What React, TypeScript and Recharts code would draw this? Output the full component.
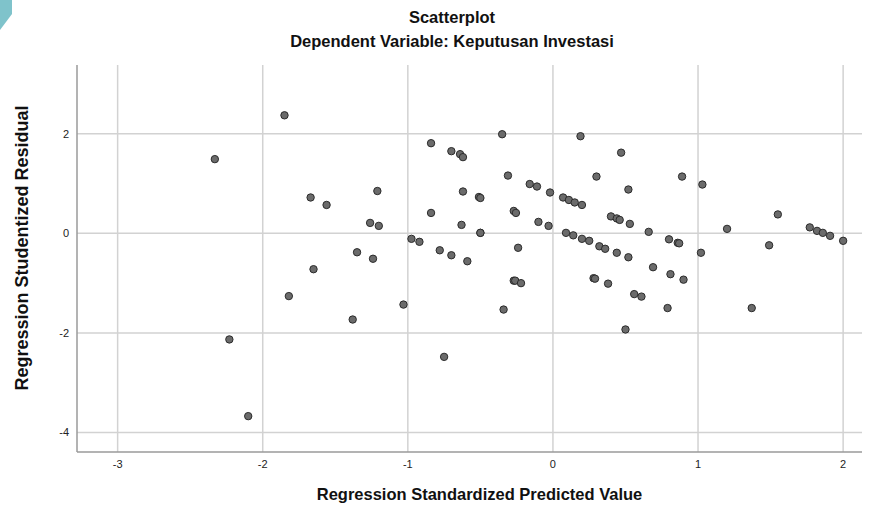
import { ScatterChart, Scatter, XAxis, YAxis, CartesianGrid } from 'recharts';

// Regression standardized predicted values (x) and studentized residuals (y)
const predicted = [
  -2.33, -1.85, -1.67, -1.56, -1.21, -1.26, -1.2, -1.35, -1.24, -0.975,
  -0.92, -0.84, -0.84, -0.7, -0.64, -0.62, -0.62, -0.63, -0.78, -0.7,
  -0.59, -0.51, -0.5, -0.5, -0.5, -0.35, -0.31, -0.27, -0.255, -0.24,
  -0.16, -0.11, -0.1, -0.02, -0.03, 0.19, 0.3, 0.07, 0.11, 0.15,
  0.2, 0.09, 0.14, 0.2, 0.25, 0.32, 0.47, 0.52, 0.4, 0.44,
  0.46, 0.53, 0.66, 0.36, 0.44, 0.52, 0.8, 0.86, 0.87, 0.89,
  1.03, 1.02, 1.2, 1.49, 1.55, 1.77, 1.82, 1.86, 1.91, 2.0,
  -1.65, -1.82, -2.23, -2.1, -0.27, -0.26, -0.22, -0.34, -1.03, -1.38,
  -0.75, 0.28, 0.29, 0.69, 0.81, 0.9, 0.38, 0.56, 0.61, 0.79,
  1.37, 0.5,
];

const residual = [
  1.49, 2.37, 0.72, 0.57, 0.85, 0.21, 0.15, -0.38, -0.51, -0.11,
  -0.17, 1.81, 0.41, 1.65, 1.59, 1.53, 0.84, 0.17, -0.34, -0.44,
  -0.56, 0.73, 0.71, 0.01, 0.01, 1.99, 1.16, 0.45, 0.41, -0.29,
  0.99, 0.94, 0.23, 0.82, 0.15, 1.95, 1.14, 0.72, 0.67, 0.62,
  0.57, 0.01, -0.04, -0.11, -0.15, -0.26, 1.62, 0.88, 0.34, 0.3,
  0.27, 0.19, 0.03, -0.31, -0.39, -0.48, -0.12, -0.19, -0.2, 1.14,
  0.98, -0.39, 0.09, -0.24, 0.38, 0.12, 0.05, 0.01, -0.05, -0.15,
  -0.72, -1.26, -2.13, -3.67, -0.95, -0.95, -1.0, -1.53, -1.43, -1.73,
  -2.48, -0.9, -0.91, -0.68, -0.82, -0.93, -1.01, -1.22, -1.27, -1.5,
  -1.5, -1.93,
];

const xTicks = [-3, -2, -1, 0, 1, 2];
const yTicks = [-4, -2, 0, 2];

const data = predicted.map((x, i) => ({ x, y: residual[i] }));

const FONT = '"Liberation Sans", Arial, sans-serif';

const Dot = (props: any) => (
  <circle cx={props.cx} cy={props.cy} r={3.7} fill="#6b6b6b" stroke="#2b2b2b" strokeWidth={1} />
);

const titleStyle: any = {
  position: 'absolute',
  left: 0,
  width: 904,
  textAlign: 'center',
  fontSize: 16.5,
  fontWeight: 'bold',
  color: '#111',
  lineHeight: '19px',
};

export default function App() {
  return (
    <div style={{ position: 'absolute', left: 0, top: 0, width: 878, height: 506, background: '#fff', fontFamily: FONT }}>
      {/* teal corner from the screenshot */}
      <svg width={14} height={32} style={{ position: 'absolute', left: 0, top: 0 }}>
        <polygon points="0,0 12,0 12,14 0,30" fill="#7fc3cb" />
      </svg>

      <div style={{ ...titleStyle, top: 8 }}>Scatterplot</div>
      <div style={{ ...titleStyle, top: 32 }}>Dependent Variable: Keputusan Investasi</div>

      {/* y axis title */}
      <div
        style={{
          position: 'absolute',
          left: 22,
          top: 248,
          transform: 'translate(-50%, -50%) rotate(-90deg)',
          whiteSpace: 'nowrap',
          fontSize: 18,
          fontWeight: 'bold',
          color: '#111',
          lineHeight: '20px',
        }}
      >
        Regression Studentized Residual
      </div>

      <ScatterChart width={878} height={506} margin={{ top: 65, right: 16, bottom: 0, left: 0 }}>
        <CartesianGrid stroke="#d2d2d2" strokeWidth={1.5} syncWithTicks />
        <XAxis
          type="number"
          dataKey="x"
          domain={[-3.28, 2.13]}
          ticks={xTicks}
          allowDataOverflow
          height={54}
          stroke="#9a9a9a"
          strokeWidth={1.5}
          tickLine={false}
          tick={{ fontSize: 11, fill: '#222', fontFamily: FONT }}
          label={{ value: 'Regression Standardized Predicted Value', position: 'insideBottom', offset: 6, dx: 10, style: { fontSize: 16.5, fontWeight: 'bold', fill: '#111', fontFamily: FONT } }}
        />
        <YAxis
          type="number"
          dataKey="y"
          domain={[-4.39, 3.38]}
          ticks={yTicks}
          allowDataOverflow
          width={77}
          stroke="#9a9a9a"
          strokeWidth={1.5}
          tickLine={false}
          tick={{ fontSize: 11, fill: '#222', fontFamily: FONT }}
        />
        <Scatter data={data} shape={Dot} isAnimationActive={false} />
      </ScatterChart>
    </div>
  );
}
